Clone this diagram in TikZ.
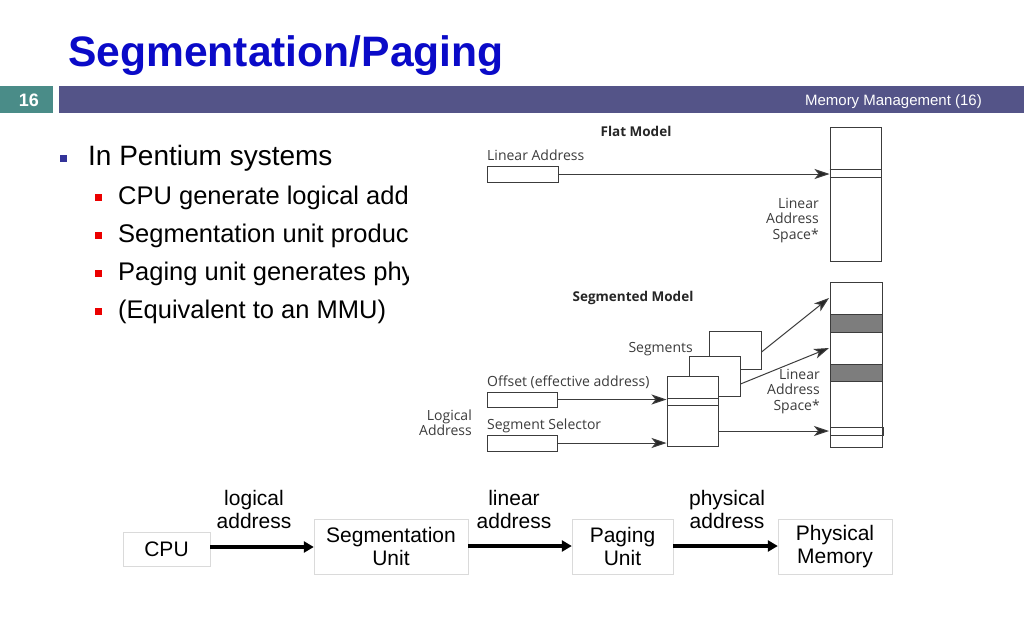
\documentclass[tikz,border=0pt]{standalone}
\usepackage{fontspec}
\setmainfont{Liberation Sans}
\newfontfamily\figfont{Open Sans}
\usetikzlibrary{positioning,arrows.meta}
\definecolor{titleblue}{RGB}{10,10,200}
\definecolor{barpurple}{RGB}{84,84,136}
\definecolor{barteal}{RGB}{74,140,136}
\definecolor{bulletblue}{RGB}{51,51,153}
\definecolor{bulletred}{RGB}{235,0,0}
\definecolor{boxline}{RGB}{218,218,218}
\definecolor{figgray}{RGB}{60,60,60}
\definecolor{bandgray}{RGB}{125,125,125}
\tikzset{
	unitbox/.style={draw=boxline, align=center, inner sep=0pt, font=\fontsize{21}{23}\selectfont},
	flowlabel/.style={align=center, inner sep=0pt, font=\fontsize{21}{23}\selectfont},
	flowarrow/.style={line width=3.5pt, -{Triangle[length=10pt,width=11pt]}},
	figtext/.style={inner sep=0pt, text=figgray, font=\figfont\fontsize{14}{15.5}\selectfont},
	figtitle/.style={inner sep=0pt, text=black!85, font=\figfont\bfseries\fontsize{13.5}{15.5}\selectfont},
	figbox/.style={draw=figgray, line width=1pt, inner sep=0pt, fill=white},
	figarrow/.style={draw=figgray, line width=1pt, -{Stealth[length=15pt,width=10pt,inset=4pt,fill=black!85]}},
}
\begin{document}
\begin{tikzpicture}[x=1pt,y=-1pt]
\useasboundingbox (0,0) rectangle (1024,640);
\fill[white] (0,0) rectangle (1024,640);
% header
\node[anchor=base west, inner sep=0pt, text=titleblue, font=\bfseries\fontsize{42.6}{46}\selectfont] (title) at (68,66) {Segmentation/Paging};
\fill[barteal] (0,86) rectangle (53,113);
\fill[barpurple] (59,86) rectangle (1024,113);
\node[anchor=base, inner sep=0pt, text=white, font=\bfseries\fontsize{18}{20}\selectfont] (pagenum) at (29,106) {16};
\node[anchor=base east, inner sep=0pt, text=white, font=\fontsize{15}{18}\selectfont] (footer) at (982,105) {Memory Management (16)};
% bullets
\fill[bulletblue] (59.5,155) rectangle (66.5,162);
\node[anchor=base west, inner sep=0pt, font=\fontsize{28}{30}\selectfont] (main) at (88,165) {In Pentium systems};
\begin{scope}
\clip (0,170) rectangle (408,340);
\foreach \t [count=\k] in {{CPU generate logical addresses},{Segmentation unit produces linear addresses},{Paging unit generates physical address in memory},{(Equivalent to an MMU)}} {
	\pgfmathsetmacro{\yb}{204+38.3*(\k-1)}
	\fill[bulletred] (94.5,\yb-10.5) rectangle (101.5,\yb-3.5);
	\node[anchor=base west, inner sep=0pt, font=\fontsize{25.5}{28}\selectfont] (sub\k) at (118,\yb) {\t};
}
\end{scope}
% flat model
\node[figtitle] (flattitle) at (636,131) {Flat Model};
\node[figtext, anchor=base west] at (487,160) {Linear Address};
\node[figbox, minimum width=71pt, minimum height=16pt] (flatlin) at (522.5,174) {};
\node[figbox, minimum width=51pt, minimum height=134pt] (flatspace) at (855.5,194) {};
\draw[figgray, line width=1pt] (flatspace.west |- 0,169) -- (flatspace.east |- 0,169)
	(flatspace.west |- 0,177) -- (flatspace.east |- 0,177);
\draw[figarrow] (flatlin.east) -- (flatlin.east -| flatspace.west);
\node[figtext, align=right, anchor=north east] (flatlbl) at (819,198) {Linear\\Address\\Space*};
% segmented model
\node[figtitle] (segtitle) at (633,298) {Segmented Model};
\node[figbox, minimum width=52pt, minimum height=165pt] (segspace) at (856,364.5) {};
\fill[bandgray, draw=figgray, line width=1pt] (830,314) rectangle (882,332);
\fill[bandgray, draw=figgray, line width=1pt] (830,364) rectangle (882,381);
\draw[figgray, line width=1pt] (830,427) rectangle (883,435);
\coordinate (t1) at (829,298);
\coordinate (t2) at (829,348);
\coordinate (t3) at (829,431);
\node[figbox, minimum width=52pt, minimum height=38pt] (segback) at (735,350) {};
\node[figbox, minimum width=51pt, minimum height=40pt] (segmid) at (714.5,376) {};
\node[figbox, minimum width=51pt, minimum height=70pt] (segfront) at (692.5,411) {};
\draw[figgray, line width=1pt] (segfront.west |- 0,398) -- (segfront.east |- 0,398)
	(segfront.west |- 0,405) -- (segfront.east |- 0,405);
\draw[figarrow] (segback.east |- 0,352) -- (t1);
\draw[figarrow] (segmid.east |- 0,384) -- (t2);
\draw[figarrow] (segfront.east |- t3) -- (t3);
\node[figtext, anchor=base east] (seglbl) at (693,352) {Segments};
\node[figtext, anchor=base west] (offlbl) at (487,386) {Offset (effective address)};
\node[figbox, minimum width=70pt, minimum height=15pt] (offbox) at (522,399.5) {};
\node[figtext, anchor=base west] (sellbl) at (487,429) {Segment Selector};
\node[figbox, minimum width=70pt, minimum height=16pt] (selbox) at (522,443) {};
\draw[figarrow] (offbox.east) -- (offbox.east -| segfront.west);
\draw[figarrow] (selbox.east) -- (selbox.east -| segfront.west);
\node[figtext, align=right, anchor=east] (loglbl) at (472,422.5) {Logical\\Address};
\node[figtext, align=right, anchor=north east] (seglin) at (820,369) {Linear\\Address\\Space*};
% translation pipeline
\node[unitbox, minimum width=87pt, minimum height=34pt] (cpu) at (166.5,549) {CPU};
\node[unitbox, minimum width=154pt, minimum height=55pt] (seg) at (391,546.5) {Segmentation\\Unit};
\node[unitbox, minimum width=101pt, minimum height=55pt] (pag) at (622.5,546.5) {Paging\\Unit};
\node[unitbox, minimum width=114pt, minimum height=55pt] (mem) at (835,546.5) {Physical\\Memory};
\draw[flowarrow] (cpu.east |- 0,547) -- (seg.west |- 0,547);
\draw[flowarrow] (seg.east |- 0,546) -- (pag.west |- 0,546);
\draw[flowarrow] (pag.east |- 0,546) -- (mem.west |- 0,546);
\node[flowlabel] (lbl1) at (254,509.5) {logical\\address};
\node[flowlabel] (lbl2) at (514,509.5) {linear\\address};
\node[flowlabel] (lbl3) at (727,509.5) {physical\\address};
\end{tikzpicture}
\end{document}
